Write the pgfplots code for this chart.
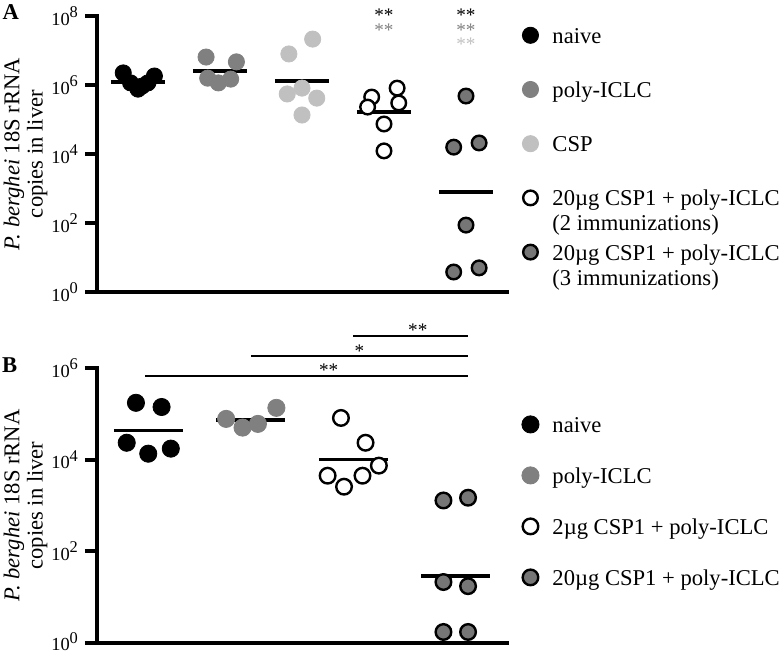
\documentclass[border=0pt]{standalone}
\usepackage{fontspec}
\setmainfont{Liberation Serif}
\usepackage{pgfplots}
\pgfplotsset{compat=1.18}

\definecolor{midgray}{RGB}{128,128,128}
\definecolor{litegray}{RGB}{192,192,192}
\definecolor{darkfill}{RGB}{118,118,118}

\newcommand{\tlab}[1]{10\raisebox{0.42em}{\fontsize{8.2}{8.5}\selectfont #1}}
\newcommand{\astr}[1]{\fontsize{9.6}{10}\selectfont #1}

\begin{document}
\begin{tikzpicture}
\path[use as bounding box] (0,0) rectangle (390pt,326.5pt);

% ---------------- Panel A ----------------
\begin{axis}[scale only axis, width=205pt, height=138pt,
  at={(48.5pt,180.5pt)}, anchor=south west,
  ymode=log, ymin=1, ymax=1e8, xmin=0.5, xmax=5.5,
  axis x line*=bottom, axis y line*=left,
  axis line style={line width=2pt, line cap=rect},
  xtick=\empty, yminorticks=false,
  ytick={1,1e2,1e4,1e6,1e8},
  yticklabels={\tlab{0},\tlab{2},\tlab{4},\tlab{6},\tlab{8}},
  tick align=outside, major tick length=6pt,
  major tick style={line width=2pt, black},
  tick label style={font=\fontsize{9.2}{10}\selectfont},
  clip=false,
  ylabel={\textit{P. berghei} 18S rRNA\\copies in liver},
  ylabel style={at={(axis description cs:-0.12,0.5)}, anchor=south, align=center, inner sep=0pt, font=\fontsize{11.3}{11.6}\selectfont},
  legend image code/.code={\path[draw=none, fill=none] (0pt,0pt) rectangle (15pt,8pt);
      \draw[mark repeat=2,mark phase=2,#1] plot coordinates {(0pt,4pt)(6pt,4pt)(12pt,4pt)};},
  legend style={draw=none, fill=none, inner sep=0pt, row sep=13.1pt,
      at={(axis description cs:1.027,0.975)}, anchor=north west, cells={anchor=base west},
      nodes={inner sep=2pt, text height=8pt, text depth=2pt, font=\fontsize{11.3}{12.5}\selectfont}}]
\addplot[only marks, mark=*, mark size=4.05pt, black, fill=black]
  coordinates {(0.82,2.24e6)(1.2,1.82e6)(0.91,1.15e6)(1.0,7.6e5)(1.12,1.15e6)(1.05,9.3e5)};
\addlegendentry{naive}
\addplot[only marks, mark=*, mark size=4.05pt, midgray, fill=midgray]
  coordinates {(1.83,6.46e6)(2.2,4.68e6)(1.85,1.58e6)(1.98,1.15e6)(2.13,1.48e6)};
\addlegendentry{poly-ICLC}
\addplot[only marks, mark=*, mark size=4.05pt, litegray, fill=litegray]
  coordinates {(3.13,2.14e7)(2.84,7.94e6)(2.82,5.5e5)(3.0,8.13e5)(3.18,4.17e5)(3.0,1.35e5)};
\addlegendentry{CSP}
\addplot[only marks, mark=*, mark size=3.65pt, black, fill=white, line width=1.2pt]
  coordinates {(4.16,8.13e5)(3.85,4.47e5)(4.18,3.02e5)(3.8,2.29e5)(4.0,7.41e4)(4.0,1.23e4)};
\addlegendentry{\begin{tabular}[t]{@{}l@{}}20µg CSP1 + poly-ICLC\\(2 immunizations)\end{tabular}}
\addplot[only marks, mark=*, mark size=3.65pt, black, fill=darkfill, line width=1.2pt]
  coordinates {(5.0,4.79e5)(4.85,1.58e4)(5.16,2.09e4)(5.0,87)(4.85,3.8)(5.16,5.0)};
\addlegendentry{\begin{tabular}[t]{@{}l@{}}20µg CSP1 + poly-ICLC\\(3 immunizations)\end{tabular}}
% means
\addplot[black, line width=1.7pt, forget plot] coordinates {(0.67,1.23e6)(1.33,1.23e6)};
\addplot[black, line width=1.7pt, forget plot] coordinates {(1.67,2.57e6)(2.33,2.57e6)};
\addplot[black, line width=1.7pt, forget plot] coordinates {(2.67,1.32e6)(3.33,1.32e6)};
\addplot[black, line width=1.7pt, forget plot] coordinates {(3.67,1.66e5)(4.33,1.66e5)};
\addplot[black, line width=1.7pt, forget plot] coordinates {(4.67,794)(5.33,794)};
% significance
\node[anchor=base, yshift=-4.5pt, inner sep=0pt, text=black] at (axis cs:4,1.23e8) {\astr{**}};
\node[anchor=base, yshift=-4.5pt, inner sep=0pt, text=midgray] at (axis cs:4,4.79e7) {\astr{**}};
\node[anchor=base, yshift=-4.5pt, inner sep=0pt, text=black] at (axis cs:5,1.23e8) {\astr{**}};
\node[anchor=base, yshift=-4.5pt, inner sep=0pt, text=midgray] at (axis cs:5,4.79e7) {\astr{**}};
\node[anchor=base, yshift=-4.5pt, inner sep=0pt, text=litegray] at (axis cs:5,1.78e7) {\astr{**}};
\node at (axis description cs:-0.21,1.013) {\bfseries\fontsize{11.3}{12}\selectfont A};
\end{axis}

% ---------------- Panel B ----------------
\begin{axis}[scale only axis, width=205pt, height=137.5pt,
  at={(48.5pt,5pt)}, anchor=south west,
  ymode=log, ymin=1, ymax=1e6, xmin=0.5, xmax=4.5,
  axis x line*=bottom, axis y line*=left,
  axis line style={line width=2pt, line cap=rect},
  xtick=\empty, yminorticks=false,
  ytick={1,1e2,1e4,1e6},
  yticklabels={\raisebox{1.5pt}{\tlab{0}},\tlab{2},\tlab{4},\tlab{6}},
  tick align=outside, major tick length=6pt,
  major tick style={line width=2pt, black},
  tick label style={font=\fontsize{9.2}{10}\selectfont},
  clip=false,
  ylabel={\textit{P. berghei} 18S rRNA\\copies in liver},
  ylabel style={at={(axis description cs:-0.12,0.5)}, anchor=south, align=center, inner sep=0pt, font=\fontsize{11.3}{11.6}\selectfont},
  legend image code/.code={\path[draw=none, fill=none] (0pt,0pt) rectangle (15pt,8pt);
      \draw[mark repeat=2,mark phase=2,#1] plot coordinates {(0pt,4pt)(6pt,4pt)(12pt,4pt)};},
  legend style={draw=none, fill=none, inner sep=0pt, row sep=11.5pt,
      at={(axis description cs:1.027,0.84)}, anchor=north west, cells={anchor=base west},
      nodes={inner sep=2pt, text height=8pt, text depth=2pt, font=\fontsize{11.3}{12.5}\selectfont}}]
\addplot[only marks, mark=*, mark size=4.3pt, black, fill=black]
  coordinates {(0.88,1.74e5)(1.13,1.41e5)(0.79,2.34e4)(1.0,1.35e4)(1.22,1.74e4)};
\addlegendentry{naive}
\addplot[only marks, mark=*, mark size=4.3pt, midgray, fill=midgray]
  coordinates {(1.76,7.76e4)(1.92,5.01e4)(2.07,6.03e4)(2.25,1.35e5)};
\addlegendentry{poly-ICLC}
\addplot[only marks, mark=*, mark size=3.9pt, black, fill=white, line width=1.2pt]
  coordinates {(2.88,8.13e4)(3.12,2.34e4)(3.25,7.41e3)(2.75,4.47e3)(2.91,2.57e3)(3.09,4.47e3)};
\addlegendentry{2µg CSP1 + poly-ICLC}
\addplot[only marks, mark=*, mark size=3.9pt, black, fill=darkfill, line width=1.2pt]
  coordinates {(3.88,1288)(4.12,1479)(3.88,21.4)(4.12,17.4)(3.88,1.74)(4.12,1.74)};
\addlegendentry{20µg CSP1 + poly-ICLC}
% means
\addplot[black, line width=1.7pt, forget plot] coordinates {(0.665,4.27e4)(1.335,4.27e4)};
\addplot[black, line width=1.7pt, forget plot] coordinates {(1.665,7.41e4)(2.335,7.41e4)};
\addplot[black, line width=1.7pt, forget plot] coordinates {(2.665,1.0e4)(3.335,1.0e4)};
\addplot[black, line width=1.7pt, forget plot] coordinates {(3.665,28.8)(4.335,28.8)};
% significance bars
\addplot[black, line width=0.8pt, forget plot] coordinates {(0.97,6.7e5)(4.12,6.7e5)};
\addplot[black, line width=0.8pt, forget plot] coordinates {(2.0,1.82e6)(4.12,1.82e6)};
\addplot[black, line width=0.8pt, forget plot] coordinates {(3.0,5.0e6)(4.12,5.0e6)};
\node[anchor=base, yshift=-4.5pt, inner sep=0pt] at (axis cs:2.76,1.05e6) {\astr{**}};
\node[anchor=base, yshift=-4.5pt, inner sep=0pt] at (axis cs:3.06,2.7e6) {\astr{*}};
\node[anchor=base, yshift=-4.5pt, inner sep=0pt] at (axis cs:3.63,7.8e6) {\astr{**}};
\node at (axis description cs:-0.213,1.009) {\bfseries\fontsize{11.3}{12}\selectfont B};
\end{axis}
\end{tikzpicture}
\end{document}
